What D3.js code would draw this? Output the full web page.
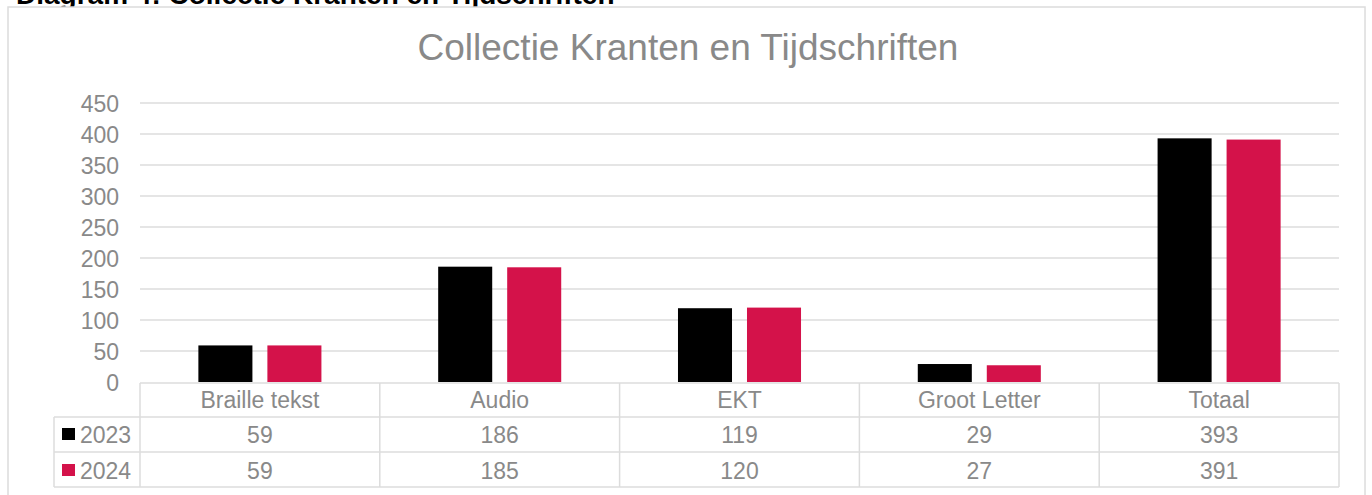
<!DOCTYPE html>
<html>
<head>
<meta charset="utf-8">
<script src="https://cdn.jsdelivr.net/npm/d3@7"></script>
<style>
  body { margin: 0; background: #fff; }
  svg { display: block; font-family: "Liberation Sans", Arial, sans-serif; }
</style>
</head>
<body>
<div id="chart"></div>
<script>
// data
var categories = ["Braille tekst", "Audio", "EKT", "Groot Letter", "Totaal"];
var years = ["2023", "2024"];
var values2023 = [59, 186, 119, 29, 393];
var values2024 = [59, 185, 120, 27, 391];
var yTicks = [0, 50, 100, 150, 200, 250, 300, 350, 400, 450];

var width = 1372, height = 495;
var textColor = "#898989";
var lineColor = "#dcdcdc";
var colors = { "2023": "#000000", "2024": "#d4124a" };

var svg = d3.select("#chart").append("svg")
  .attr("width", width)
  .attr("height", height);

// heading of the page, mostly cut off at the top (as in the original screenshot)
svg.append("text")
  .attr("x", 16)
  .attr("y", 4)
  .attr("font-size", 28)
  .attr("font-weight", "bold")
  .attr("fill", "#000")
  .text("Diagram 4: Collectie Kranten en Tijdschriften");

// chart frame
svg.append("rect")
  .attr("x", 8).attr("y", 7)
  .attr("width", 1357).attr("height", 500)
  .attr("fill", "#fff")
  .attr("stroke", lineColor)
  .attr("stroke-width", 1.5);

svg.append("text")
  .attr("x", 688)
  .attr("y", 60)
  .attr("text-anchor", "middle")
  .attr("font-size", 37)
  .attr("fill", textColor)
  .text("Collectie Kranten en Tijdschriften");

var plotLeft = 140, plotRight = 1339;
var x = d3.scaleBand().domain(categories).range([plotLeft, plotRight]);
var x1 = d3.scaleBand().domain(years).range([0, x.bandwidth()])
  .paddingInner(0.217).paddingOuter(0.846);
var y = d3.scaleLinear().domain([0, 450]).range([382, 103]);

// gridlines
svg.append("g").selectAll("line")
  .data(yTicks.filter(function (d) { return d > 0; }))
  .join("line")
  .attr("x1", plotLeft).attr("x2", plotRight)
  .attr("y1", function (d) { return y(d); })
  .attr("y2", function (d) { return y(d); })
  .attr("stroke", lineColor)
  .attr("stroke-width", 1.5);

// y axis labels
var yAxis = d3.axisLeft(y).tickValues(yTicks).tickSize(0).tickPadding(0);
var gy = svg.append("g").attr("transform", "translate(119,0)").call(yAxis);
gy.select(".domain").remove();
gy.selectAll("text")
  .attr("font-size", 23)
  .attr("font-family", "Liberation Sans, Arial, sans-serif")
  .attr("fill", textColor)
  .attr("dy", "0.35em");

// bars
var series = [
  { year: "2023", values: values2023 },
  { year: "2024", values: values2024 }
];
series.forEach(function (s) {
  svg.append("g").selectAll("rect")
    .data(s.values)
    .join("rect")
    .attr("x", function (d, i) { return x(categories[i]) + x1(s.year); })
    .attr("y", function (d) { return y(d); })
    .attr("width", x1.bandwidth())
    .attr("height", function (d) { return y(0) - y(d); })
    .attr("fill", colors[s.year]);
});

// data table under the plot
var rowTop = [383, 417, 452];
var rowBottom = 487;
var legendLeft = 54;
var table = svg.append("g")
  .attr("stroke", lineColor)
  .attr("stroke-width", 1.5);

table.append("line").attr("x1", plotLeft).attr("x2", plotRight).attr("y1", rowTop[0]).attr("y2", rowTop[0]);
[rowTop[1], rowTop[2], rowBottom].forEach(function (ry) {
  table.append("line").attr("x1", legendLeft).attr("x2", plotRight).attr("y1", ry).attr("y2", ry);
});
table.append("line").attr("x1", legendLeft).attr("x2", legendLeft).attr("y1", rowTop[1]).attr("y2", rowBottom);
categories.forEach(function (c) {
  table.append("line").attr("x1", x(c)).attr("x2", x(c)).attr("y1", rowTop[0]).attr("y2", rowBottom);
});
table.append("line").attr("x1", plotRight).attr("x2", plotRight).attr("y1", rowTop[0]).attr("y2", rowBottom);

// category labels
svg.append("g").selectAll("text")
  .data(categories)
  .join("text")
  .attr("x", function (d) { return x(d) + x.bandwidth() / 2; })
  .attr("y", 408)
  .attr("text-anchor", "middle")
  .attr("font-size", 23)
  .attr("fill", textColor)
  .text(function (d) { return d; });

var rowBase = [443, 479];
series.forEach(function (s, r) {
  // legend key + year
  svg.append("rect")
    .attr("x", 62).attr("y", rowBase[r] - 15)
    .attr("width", 13).attr("height", 12)
    .attr("fill", colors[s.year]);
  svg.append("text")
    .attr("x", 80).attr("y", rowBase[r])
    .attr("font-size", 23)
    .attr("fill", textColor)
    .text(s.year);

  svg.append("g").selectAll("text")
    .data(s.values)
    .join("text")
    .attr("x", function (d, i) { return x(categories[i]) + x.bandwidth() / 2; })
    .attr("y", rowBase[r])
    .attr("text-anchor", "middle")
    .attr("font-size", 23)
    .attr("fill", textColor)
    .text(function (d) { return d; });
});
</script>
</body>
</html>
